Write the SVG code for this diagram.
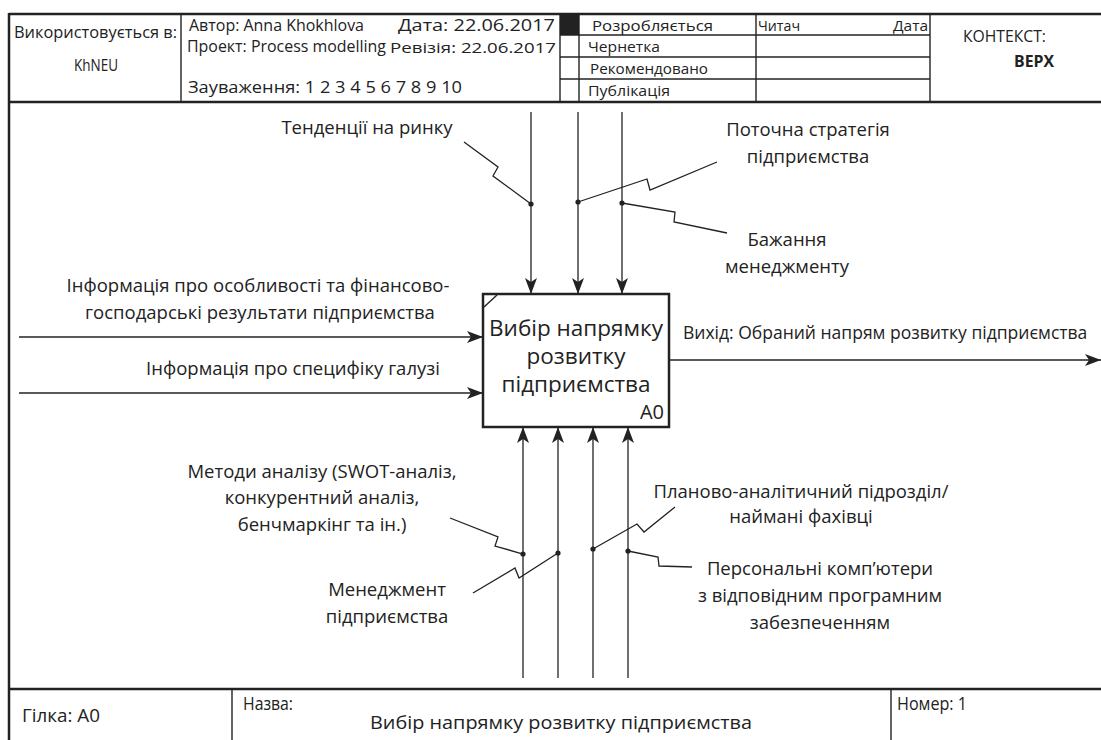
<svg xmlns="http://www.w3.org/2000/svg" width="1101" height="740" viewBox="0 0 1101 740">
<style>
.frame{fill:none;stroke:#222;stroke-width:2.5}
.thin{fill:none;stroke:#222;stroke-width:1.4}
.conn{fill:none;stroke:#222;stroke-width:1.3}
.lbl{font-family:"Open Sans","Noto Sans",sans-serif;font-size:18.5px;fill:#222}
.box{font-family:"Open Sans","Noto Sans",sans-serif;font-size:22.5px;fill:#222}
.hdr{font-family:"Open Sans","Noto Sans",sans-serif;font-size:16px;fill:#222}
.sm{font-size:15px}
.ftr{font-family:"Open Sans","Noto Sans",sans-serif;font-size:18px;fill:#222}
.mid{text-anchor:middle}
.dot{fill:#222}
</style>
<defs>
<marker id="arr" viewBox="0 0 16 12" refX="16" refY="6" markerWidth="16" markerHeight="12" markerUnits="userSpaceOnUse" orient="auto">
<path d="M0,0 L16,6 L0,12 L4,6 Z" fill="#222"/>
</marker>
</defs>
<rect width="1101" height="740" fill="#fff"/>

<g id="frame">
<line class="frame" x1="9" y1="14" x2="1101" y2="14"/>
<line class="frame" x1="9" y1="13" x2="9" y2="740"/>
<line class="frame" x1="9" y1="102" x2="1101" y2="102"/>
<line class="frame" x1="9" y1="689" x2="1101" y2="689"/>
<line class="thin" x1="181" y1="14" x2="181" y2="102"/>
<line class="thin" x1="560" y1="14" x2="560" y2="102"/>
<line class="thin" x1="579" y1="14" x2="579" y2="102"/>
<line class="thin" x1="756" y1="14" x2="756" y2="102"/>
<line class="thin" x1="930" y1="14" x2="930" y2="102"/>
<line class="thin" x1="560" y1="35" x2="930" y2="35"/>
<line class="thin" x1="560" y1="57" x2="930" y2="57"/>
<line class="thin" x1="560" y1="79" x2="930" y2="79"/>
<rect x="560" y="14" width="19" height="21" fill="#222"/>
<line class="thin" x1="232" y1="689" x2="232" y2="740"/>
<line class="thin" x1="891" y1="689" x2="891" y2="740"/>
</g>

<g id="header-text">
<text class="hdr" x="14" y="38" textLength="163" lengthAdjust="spacingAndGlyphs">Використовується в:</text>
<text class="hdr" x="74" y="71" textLength="44" lengthAdjust="spacingAndGlyphs">KhNEU</text>
<text class="hdr" x="189" y="31" textLength="175" lengthAdjust="spacingAndGlyphs">Автор: Anna Khokhlova</text>
<text class="hdr" x="398" y="31" textLength="157" lengthAdjust="spacingAndGlyphs">Дата:   22.06.2017</text>
<text class="hdr" x="187" y="52" textLength="199" lengthAdjust="spacingAndGlyphs">Проект: Process modelling</text>
<text class="hdr sm" x="390" y="53" textLength="166" lengthAdjust="spacingAndGlyphs">Ревізія: 22.06.2017</text>
<text class="hdr" x="188" y="93" textLength="274" lengthAdjust="spacingAndGlyphs">Зауваження:  1  2  3  4  5  6  7  8  9  10</text>
<text class="hdr sm" x="592" y="31" textLength="121" lengthAdjust="spacingAndGlyphs">Розробляється</text>
<text class="hdr sm" x="588" y="52" textLength="72" lengthAdjust="spacingAndGlyphs">Чернетка</text>
<text class="hdr sm" x="590" y="74" textLength="118" lengthAdjust="spacingAndGlyphs">Рекомендовано</text>
<text class="hdr sm" x="588" y="96" textLength="82" lengthAdjust="spacingAndGlyphs">Публікація</text>
<text class="hdr sm" x="758" y="31" textLength="42" lengthAdjust="spacingAndGlyphs">Читач</text>
<text class="hdr sm" x="893" y="31" textLength="35" lengthAdjust="spacingAndGlyphs">Дата</text>
<text class="hdr" x="963" y="42" textLength="83" lengthAdjust="spacingAndGlyphs">КОНТЕКСТ:</text>
<text class="hdr" x="1014" y="67" font-weight="bold" textLength="40" lengthAdjust="spacingAndGlyphs">ВЕРХ</text>
</g>

<g id="footer-text">
<text class="ftr" x="22" y="722" textLength="78" lengthAdjust="spacingAndGlyphs">Гілка: A0</text>
<text class="ftr" x="243" y="710" textLength="50" lengthAdjust="spacingAndGlyphs">Назва:</text>
<text class="ftr" x="370" y="729" textLength="382" lengthAdjust="spacingAndGlyphs">Вибір напрямку розвитку підприємства</text>
<text class="ftr" x="897" y="710" textLength="70" lengthAdjust="spacingAndGlyphs">Номер: 1</text>
</g>

<g id="A0">
<rect x="483" y="294" width="186" height="133" fill="#fff" stroke="#222" stroke-width="2.5"/>
<line class="thin" x1="484" y1="307" x2="497" y2="295"/>
<text class="box mid" x="576" y="336">Вибір напрямку</text>
<text class="box mid" x="576" y="364">розвитку</text>
<text class="box mid" x="576" y="392">підприємства</text>
<text class="box" x="664" y="419" text-anchor="end" style="font-size:20px">A0</text>
</g>

<g id="connectors">
<line class="conn" x1="531" y1="112" x2="531" y2="294" marker-end="url(#arr)"/>
<line class="conn" x1="578" y1="112" x2="578" y2="294" marker-end="url(#arr)"/>
<line class="conn" x1="622" y1="112" x2="622" y2="294" marker-end="url(#arr)"/>
<polyline class="conn" points="464,142 498,167 493,176 531,204"/>
<polyline class="conn" points="578,202 647,179 650,190 717,162"/>
<polyline class="conn" points="622,203 675,212 674,222 727,233"/>
<circle class="dot" cx="531" cy="204" r="2.6"/>
<circle class="dot" cx="578" cy="202" r="2.6"/>
<circle class="dot" cx="622" cy="203" r="2.6"/>

<line class="conn" x1="19" y1="337" x2="483" y2="337" marker-end="url(#arr)"/>
<line class="conn" x1="19" y1="393" x2="483" y2="393" marker-end="url(#arr)"/>
<line class="conn" x1="669" y1="360" x2="1101" y2="360" marker-end="url(#arr)"/>

<line class="conn" x1="523" y1="678" x2="523" y2="427" marker-end="url(#arr)"/>
<line class="conn" x1="558" y1="678" x2="558" y2="427" marker-end="url(#arr)"/>
<line class="conn" x1="593" y1="678" x2="593" y2="427" marker-end="url(#arr)"/>
<line class="conn" x1="628" y1="678" x2="628" y2="427" marker-end="url(#arr)"/>
<polyline class="conn" points="450,518 498,537 495,546 523,554"/>
<polyline class="conn" points="473,593 515,568 519,578 558,553"/>
<polyline class="conn" points="593,549 637,524 644,532 675,507"/>
<polyline class="conn" points="628,551 658,557 659,566 692,567"/>
<circle class="dot" cx="523" cy="554" r="2.6"/>
<circle class="dot" cx="558" cy="553" r="2.6"/>
<circle class="dot" cx="593" cy="549" r="2.6"/>
<circle class="dot" cx="628" cy="551" r="2.6"/>
</g>

<g id="labels">
<text class="lbl mid" x="367" y="134">Тенденції на ринку</text>
<text class="lbl mid" x="808" y="136">Поточна стратегія</text>
<text class="lbl mid" x="808" y="163">підприємства</text>
<text class="lbl mid" x="787" y="246">Бажання</text>
<text class="lbl mid" x="787" y="273">менеджменту</text>
<text class="lbl mid" x="258" y="292">Інформація про особливості та фінансово-</text>
<text class="lbl mid" x="260" y="319">господарські результати підприємства</text>
<text class="lbl mid" x="293" y="375">Інформація про специфіку галузі</text>
<text class="lbl" x="683" y="339" style="font-size:17.5px">Вихід: Обраний напрям розвитку підприємства</text>
<text class="lbl mid" x="322" y="478">Методи аналізу (SWOT-аналіз,</text>
<text class="lbl mid" x="322" y="504">конкурентний аналіз,</text>
<text class="lbl mid" x="322" y="531">бенчмаркінг та ін.)</text>
<text class="lbl mid" x="387" y="596">Менеджмент</text>
<text class="lbl mid" x="387" y="623">підприємства</text>
<text class="lbl mid" x="801" y="498">Планово-аналітичний підрозділ/</text>
<text class="lbl mid" x="801" y="523">наймані фахівці</text>
<text class="lbl mid" x="820" y="575">Персональні комп’ютери</text>
<text class="lbl mid" x="820" y="602">з відповідним програмним</text>
<text class="lbl mid" x="820" y="629">забезпеченням</text>
</g>
</svg>
